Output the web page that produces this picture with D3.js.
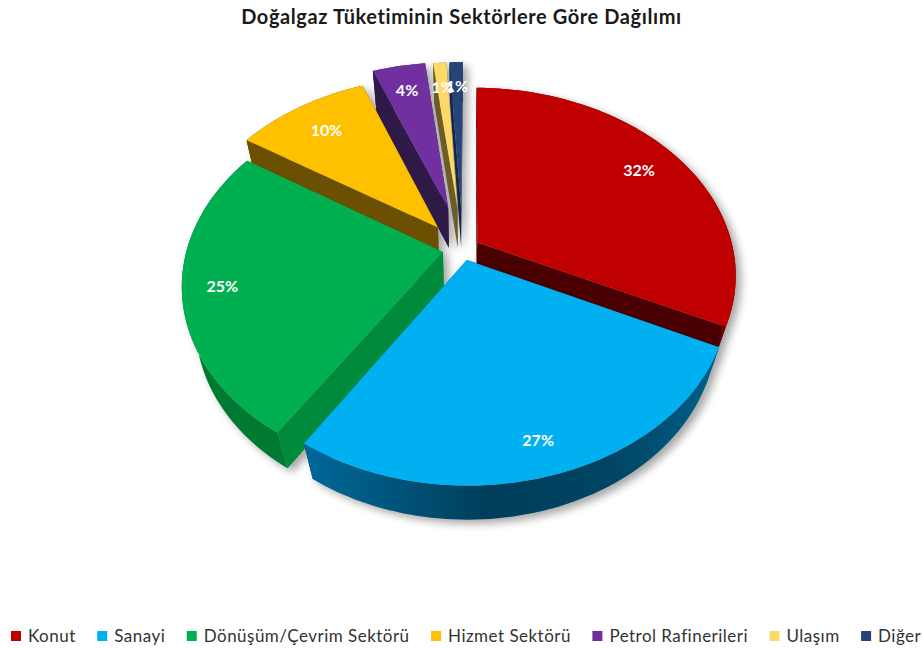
<!DOCTYPE html>
<html><head><meta charset="utf-8">
<script src="https://cdn.jsdelivr.net/npm/d3@7/dist/d3.min.js"></script>
<style>html,body{margin:0;padding:0;background:#fff}svg{display:block}text{font-family:Lato,"Open Sans",sans-serif}</style>
</head><body><svg id="c" width="923" height="648"></svg>
<script>
const titleText = "Doğalgaz Tüketiminin Sektörlere Göre Dağılımı";
const categories = ["Konut","Sanayi","Dönüşüm/Çevrim Sektörü","Hizmet Sektörü","Petrol Rafinerileri","Ulaşım","Diğer"];
const values = [32,27,25,10,4,1,1];
const labels = ["32%","27%","25%","10%","4%","1%","1%"];
const explosion = [0.068,0.062,0.078,0.155,0.24,0.235,0.235];
const labelRadius = [0.81,0.86,0.85,0.79,0.81,0.81,0.81];
const topColors = ["#c00000","#00b0f0","#00b050","#ffc000","#7030a0","#ffd966","#264478"];
const sideColors = ["#4a0000","#00486a","#008a3c","#6a5000","#2f1a47","#6e5c28","#14274a"];
const rimColors = ["#7a0000","url(#rimBlue)","#007a33","#6a5000","#2f1a47","#6e5c28","#14274a"];
const drawOrder = [6,5,4,3,0,2,1];

// camera
const cx=462.5, cy=249, rx=256, ry=183, persp=0.17, zPersp=0.05, zDrop=41.5, rotation=0.4*Math.PI/180;
const svg=d3.select("#c");
const defs=svg.append("defs");
const g=defs.append("linearGradient").attr("id","rimBlue").attr("gradientUnits","userSpaceOnUse")
  .attr("x1",303).attr("x2",715).attr("y1",0).attr("y2",0);
[[0,"#00669a"],[0.1,"#00608c"],[0.45,"#003e5a"],[0.75,"#004564"],[1,"#005f88"]].forEach(s=>g.append("stop").attr("offset",s[0]).attr("stop-color",s[1]));
const blur=defs.append("filter").attr("id","sh").attr("x","-10%").attr("y","-10%").attr("width","120%").attr("height","120%");
blur.append("feGaussianBlur").attr("stdDeviation",4);

const project=(x,yb,z)=>{const w=1+persp*yb+zPersp*z;return [cx+rx*x/w, cy-(ry*yb-zDrop*z)/w];};
const slices=d3.pie().sort(null).value(d=>d).startAngle(rotation).endAngle(2*Math.PI+rotation)(values);
const line=d3.line();
const mids=slices.map(s=>(s.startAngle+s.endAngle)/2);
const centre=i=>[Math.sin(mids[i])*explosion[i],Math.cos(mids[i])*explosion[i]];
const pt=(i,a,r,z)=>{const c=centre(i);return project(c[0]+r*Math.sin(a),c[1]+r*Math.cos(a),z);};
const arcAngles=s=>{const n=Math.max(4,Math.ceil((s.endAngle-s.startAngle)*40));return d3.range(n+1).map(k=>s.startAngle+(s.endAngle-s.startAngle)*k/n);};

function drawSlice(sel,i,flat){
  const s=slices[i],aa=arcAngles(s);
  const col=k=>flat?"#000":k;
  const topArc=aa.map(a=>pt(i,a,1,0)), botArc=aa.map(a=>pt(i,a,1,1));
  const ctop=pt(i,0,0,0), cbot=pt(i,0,0,1);
  [s.startAngle,s.endAngle].forEach(a=>{
    sel.append("path").attr("d",line([ctop,pt(i,a,1,0),pt(i,a,1,1),cbot])+"Z").attr("fill",col(sideColors[i]));
  });
  sel.append("path").attr("d",line(topArc.concat(botArc.slice().reverse()))+"Z").attr("fill",col(rimColors[i]));
  sel.append("path").attr("d",line([ctop].concat(topArc))+"Z").attr("fill",col(topColors[i]));
}
const shadow=svg.append("g").attr("filter","url(#sh)").attr("opacity",0.35).attr("transform","translate(5,4)");
drawOrder.forEach(i=>drawSlice(shadow,i,true));
const pieG=svg.append("g");
drawOrder.forEach(i=>drawSlice(pieG.append("g"),i,false));

svg.append("g").selectAll("text").data(slices).join("text")
  .attr("x",(d,i)=>pt(i,mids[i],labelRadius[i],0)[0]).attr("y",(d,i)=>pt(i,mids[i],labelRadius[i],0)[1])
  .attr("text-anchor","middle").attr("dy","0.36em").attr("fill","#fff")
  .attr("font-size",16).attr("font-weight",700).text((d,i)=>labels[i]);

svg.append("text").attr("x",461.5).attr("y",24).attr("text-anchor","middle")
  .attr("font-size",20).attr("font-weight",700).attr("letter-spacing",0.6).attr("fill","#1a1a1a").text(titleText);

let lx=11;
const leg=svg.append("g");
categories.forEach((c,i)=>{
  leg.append("rect").attr("x",lx).attr("y",631).attr("width",10).attr("height",10).attr("fill",topColors[i]);
  const t=leg.append("text").attr("x",lx+17).attr("y",642).attr("font-size",17).attr("letter-spacing",0.48).attr("fill","#333").text(c);
  lx+=17+t.node().getComputedTextLength()+21.5;
});
</script></body></html>
